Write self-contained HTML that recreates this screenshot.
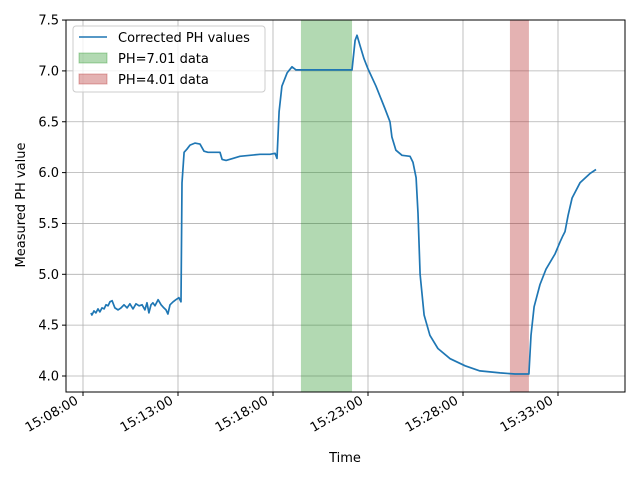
<!DOCTYPE html>
<html><head><meta charset="utf-8"><style>
body{margin:0;background:#fff}
svg text{font-family:"DejaVu Sans","Liberation Sans",sans-serif;font-size:13px;fill:#000}
</style></head><body>
<svg id="c" width="640" height="480"></svg>
<script>
const tMin=[0.42,0.47,0.58,0.68,0.79,0.89,1.0,1.11,1.21,1.32,1.42,1.53,1.68,1.84,2.0,2.16,2.32,2.47,2.63,2.79,2.95,3.11,3.26,3.37,3.47,3.58,3.68,3.79,3.95,4.11,4.26,4.37,4.47,4.58,4.74,4.89,5.05,5.16,5.21,5.32,5.47,5.63,5.89,6.16,6.37,6.58,6.95,7.21,7.32,7.53,7.89,8.26,8.79,9.32,9.84,10.11,10.21,10.32,10.47,10.74,11.0,11.21,14.16,14.32,14.42,14.58,14.79,15.0,15.42,15.89,16.16,16.26,16.47,16.79,17.21,17.37,17.53,17.63,17.74,17.95,18.26,18.68,19.32,20.11,20.89,21.95,22.74,23.47,23.58,23.74,24.05,24.37,24.84,25.11,25.26,25.37,25.53,25.74,26.16,26.68,27.0];
const ph=[4.62,4.60,4.64,4.62,4.66,4.63,4.67,4.66,4.70,4.69,4.73,4.74,4.67,4.65,4.67,4.70,4.67,4.71,4.66,4.71,4.69,4.70,4.65,4.72,4.62,4.70,4.72,4.69,4.75,4.70,4.67,4.65,4.61,4.70,4.73,4.75,4.77,4.73,5.90,6.20,6.23,6.27,6.29,6.28,6.21,6.20,6.20,6.20,6.13,6.12,6.14,6.16,6.17,6.18,6.18,6.19,6.14,6.60,6.85,6.98,7.04,7.01,7.01,7.30,7.35,7.25,7.12,7.02,6.85,6.63,6.50,6.35,6.22,6.17,6.16,6.10,5.95,5.60,5.00,4.60,4.40,4.27,4.17,4.10,4.05,4.03,4.02,4.02,4.40,4.68,4.90,5.05,5.20,5.32,5.38,5.42,5.58,5.75,5.90,5.99,6.03];
const yTicks=[4.0,4.5,5.0,5.5,6.0,6.5,7.0,7.5];
const xTickLabels=["15:08:00","15:13:00","15:18:00","15:23:00","15:28:00","15:33:00"];
const xTickMin=[0,5,10,15,20,25];
const greenSpan=[11.47,14.16];
const redSpan=[22.47,23.47];
const NS="http://www.w3.org/2000/svg",svg=document.getElementById('c');
const L=66,R=625,T=20,B=392;
const X=m=>83+19*m, Y=v=>376-(v-4)*101.7;
function el(t,a,p){const e=document.createElementNS(NS,t);for(const k in a)e.setAttribute(k,a[k]);(p||svg).appendChild(e);return e;}
xTickMin.forEach(m=>{const g=el('line',{x1:X(m),x2:X(m),y1:T,y2:B,stroke:'#b0b0b0','stroke-width':0.8});

});
yTicks.forEach(v=>{const g=el('line',{x1:L,x2:R,y1:Y(v),y2:Y(v),stroke:'#b0b0b0','stroke-width':0.8});

});
const gs=el('rect',{x:X(greenSpan[0]),y:T,width:X(greenSpan[1])-X(greenSpan[0]),height:B-T,fill:'green','fill-opacity':0.3});


const rs=el('rect',{x:X(redSpan[0]),y:T,width:X(redSpan[1])-X(redSpan[0]),height:B-T,fill:'#b22222','fill-opacity':0.35});


const n=Math.min(tMin.length,ph.length);
let d='';for(let i=0;i<n;i++)d+=(i?'L':'M')+X(tMin[i]).toFixed(1)+','+Y(ph[i]).toFixed(1);
const ln=el('path',{d:d,fill:'none',stroke:'#1f77b4','stroke-width':1.7,'stroke-linejoin':'round'});


const fr=el('rect',{x:L,y:T,width:R-L,height:B-T,fill:'none',stroke:'#000','stroke-width':1});


yTicks.forEach(v=>{el('line',{x1:L-4,x2:L,y1:Y(v),y2:Y(v),stroke:'#000'});
const t=el('text',{x:L-7,y:Y(v)+4.5,'text-anchor':'end'});t.textContent=v.toFixed(1);

});
xTickMin.forEach((m,i)=>{el('line',{x1:X(m),x2:X(m),y1:B,y2:B+4,stroke:'#000'});
const ax=X(m)-4, ay=B+11;
const t=el('text',{x:ax,y:ay,'text-anchor':'end',transform:`rotate(-30 ${ax} ${ay})`});t.textContent=xTickLabels[i];

});
const xt=el('text',{x:345,y:462,'text-anchor':'middle'});xt.textContent='Time';


const yt=el('text',{x:25,y:205,'text-anchor':'middle',transform:'rotate(-90 25 205)'});yt.textContent='Measured PH value';


const lg=el('g',{});


el('rect',{x:73,y:26,width:192,height:66,rx:3,fill:'#fff','fill-opacity':0.8,stroke:'#ccc'},lg);
el('line',{x1:79,x2:107,y1:37,y2:37,stroke:'#1f77b4','stroke-width':1.5},lg);
el('rect',{x:79,y:53,width:28,height:10,fill:'green','fill-opacity':0.3,stroke:'green','stroke-opacity':0.3},lg);
el('rect',{x:79,y:74,width:28,height:10,fill:'#b22222','fill-opacity':0.35,stroke:'#b22222','stroke-opacity':0.35},lg);
[['Corrected PH values',42],['PH=7.01 data',63],['PH=4.01 data',84]].forEach(([s,y])=>{const t=el('text',{x:118,y:y},lg);t.textContent=s;

});
</script>
</body></html>
